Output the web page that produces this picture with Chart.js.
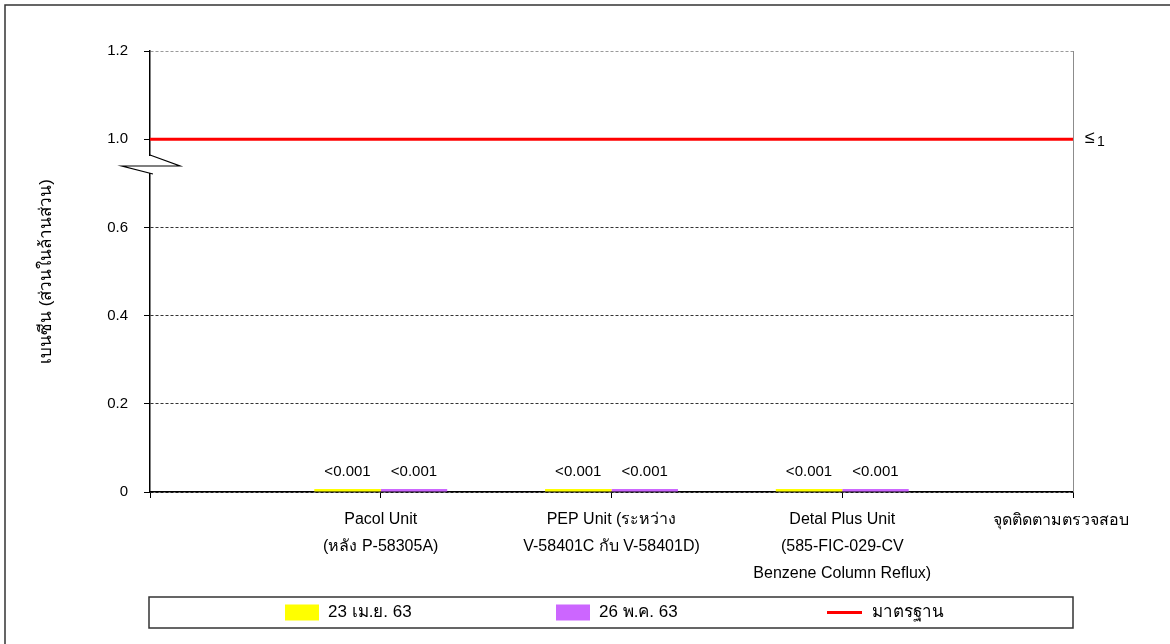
<!DOCTYPE html>
<html>
<head>
<meta charset="utf-8">
<script src="https://cdn.jsdelivr.net/npm/chart.js@4"></script>
<style>
  html, body { margin: 0; padding: 0; background: #fff; }
  #wrap { width: 1170px; height: 644px; position: relative; }
</style>
</head>
<body>
<div id="wrap"><canvas id="benzene-chart" width="1170" height="644"></canvas></div>
<script>
// sampling points (first and last slots are empty so the axis runs edge to edge)
const categories = [
  '',
  ['Pacol Unit', '(หลัง P-58305A)'],
  ['PEP Unit (ระหว่าง', 'V-58401C กับ V-58401D)'],
  ['Detal Plus Unit', '(585-FIC-029-CV', 'Benzene Column Reflux)'],
  ''
];
const seriesNames = ['23 เม.ย. 63', '26 พ.ค. 63', 'มาตรฐาน'];
const seriesApr = [null, 0.001, 0.001, 0.001, null];
const seriesMay = [null, 0.001, 0.001, 0.001, null];
const standardLimit = [1, 1, 1, 1, 1];
const yTicks = [0, 0.2, 0.4, 0.6, 1.0, 1.2];
const xAxisTitle = 'จุดติดตามตรวจสอบ';
const yAxisTitle = 'เบนซีน (ส่วนในล้านส่วน)';
const limitLabel = '≤';
const limitValue = '1';

const FONT = "'Liberation Sans', Arial, sans-serif";
const YELLOW = '#ffff00';
const PURPLE = '#cc66ff';
const RED = '#ff0000';

// y axis has a break: 0.6 .. 1.0 is squeezed into one 0.2 step
function squeeze(v) {
  if (v === null || v === undefined) return v;
  if (v <= 0.6) return v;
  if (v >= 1.0) return v - 0.2;
  return 0.6 + (v - 0.6) / 2;
}
function unsqueeze(a) {
  if (a <= 0.6) return a;
  if (a >= 0.8) return a + 0.2;
  return 0.6 + (a - 0.6) * 2;
}

class BrokenLinearScale extends Chart.LinearScale {
  configure() {
    super.configure();
    this._startValue = squeeze(this.min);
    this._endValue = squeeze(this.max);
    this._valueRange = this._endValue - this._startValue;
  }
  getPixelForValue(value) {
    return super.getPixelForValue(squeeze(value));
  }
  getValueForPixel(pixel) {
    return unsqueeze(super.getValueForPixel(pixel));
  }
}
BrokenLinearScale.id = 'brokenLinear';
BrokenLinearScale.defaults = Chart.LinearScale.defaults;
Chart.register(BrokenLinearScale);

// frame, plot border, axis break, value labels, legend and the extra texts
const decorations = {
  id: 'decorations',
  afterDraw(chart) {
    const ctx = chart.ctx;
    const area = chart.chartArea;
    const y = chart.scales.y;
    ctx.save();

    // outer frame
    ctx.strokeStyle = '#333';
    ctx.lineWidth = 1.5;
    ctx.beginPath();
    ctx.moveTo(5, 700);
    ctx.lineTo(5, 5);
    ctx.lineTo(1200, 5);
    ctx.stroke();

    // right edge of the plot
    ctx.strokeStyle = '#8c8c8c';
    ctx.lineWidth = 1;
    ctx.beginPath();
    ctx.moveTo(area.right + 0.5, area.top);
    ctx.lineTo(area.right + 0.5, area.bottom);
    ctx.stroke();

    // axis break mark
    const by = Math.round(y.getPixelForValue(0.88));
    const bx = area.left;
    ctx.fillStyle = '#fff';
    ctx.fillRect(bx - 2, by - 10, 5, 17);
    ctx.strokeStyle = '#000';
    ctx.lineWidth = 1.2;
    ctx.beginPath();
    ctx.moveTo(bx, by - 11);
    ctx.lineTo(bx + 30, by);
    ctx.lineTo(bx - 28, by);
    ctx.lineTo(bx + 3, by + 8);
    ctx.stroke();

    // value labels above the bars
    ctx.fillStyle = '#000';
    ctx.font = '15px ' + FONT;
    ctx.textAlign = 'center';
    ctx.textBaseline = 'middle';
    [0, 1].forEach(di => {
      const meta = chart.getDatasetMeta(di);
      meta.data.forEach((bar, i) => {
        const v = chart.data.datasets[di].data[i];
        if (v === null) return;
        ctx.fillText('<' + v, bar.x, area.bottom - 20);
      });
    });

    // limit label at the end of the standard line
    const ly = y.getPixelForValue(standardLimit[standardLimit.length - 1]);
    ctx.textAlign = 'left';
    ctx.font = '18px ' + FONT;
    ctx.fillText(limitLabel, area.right + 12, ly - 1);
    ctx.font = '14px ' + FONT;
    ctx.fillText(limitValue, area.right + 24, ly + 3);

    // x axis title
    ctx.textAlign = 'center';
    ctx.font = '16px ' + FONT;
    ctx.fillText(xAxisTitle, area.right - 12, area.bottom + 29);

    // legend box
    const top = 597, h = 31;
    ctx.strokeStyle = '#333';
    ctx.lineWidth = 1.5;
    ctx.strokeRect(area.left - 1, top, area.right - area.left + 1, h);
    const cy = top + h / 2;
    const colors = [YELLOW, PURPLE, RED];
    ctx.font = '17px ' + FONT;
    ctx.textAlign = 'left';
    seriesNames.forEach((name, i) => {
      const x0 = area.left + 135 + i * 271;
      if (i < 2) {
        ctx.fillStyle = colors[i];
        ctx.fillRect(x0, cy - 8, 34, 16);
        ctx.fillStyle = '#000';
        ctx.fillText(name, x0 + 43, cy);
      } else {
        ctx.strokeStyle = colors[i];
        ctx.lineWidth = 3;
        ctx.beginPath();
        ctx.moveTo(x0, cy);
        ctx.lineTo(x0 + 35, cy);
        ctx.stroke();
        ctx.fillStyle = '#000';
        ctx.fillText(name, x0 + 45, cy);
      }
    });
    ctx.restore();
  }
};

new Chart(document.getElementById('benzene-chart'), {
  data: {
    labels: categories,
    datasets: [
      {
        type: 'bar',
        label: seriesNames[0],
        data: seriesApr,
        backgroundColor: YELLOW,
        minBarLength: 3,
        order: 1
      },
      {
        type: 'bar',
        label: seriesNames[1],
        data: seriesMay,
        backgroundColor: PURPLE,
        minBarLength: 3,
        order: 1
      },
      {
        type: 'line',
        label: seriesNames[2],
        data: standardLimit,
        borderColor: RED,
        borderWidth: 3,
        pointRadius: 0,
        order: 0
      }
    ]
  },
  options: {
    responsive: false,
    animation: false,
    layout: { padding: { top: 51, right: 97, bottom: 0, left: 0 } },
    datasets: {
      bar: { categoryPercentage: 0.576, barPercentage: 1.0 }
    },
    plugins: {
      legend: { display: false },
      tooltip: { enabled: false }
    },
    scales: {
      x: {
        offset: false,
        grid: {
          offset: false,
          drawOnChartArea: false,
          drawTicks: true,
          tickLength: 6,
          color: '#000'
        },
        border: { color: '#000', width: 1.5 },
        ticks: {
          color: '#000',
          padding: 8,
          maxRotation: 0,
          autoSkip: false,
          font: { family: FONT, size: 16, lineHeight: 1.69 }
        },
        afterFit: scale => { scale.height = 152; }
      },
      y: {
        type: 'brokenLinear',
        min: 0,
        max: 1.2,
        afterBuildTicks: scale => {
          scale.ticks = yTicks.map(v => ({ value: v }));
        },
        grid: {
          color: c => (c.tick && c.tick.value === 1.2 ? '#9a9a9a' : '#333'),
          tickColor: '#000',
          tickLength: 6,
          lineWidth: 1
        },
        border: { color: '#000', width: 1.5, dash: [3, 2] },
        ticks: {
          color: '#000',
          padding: 16,
          font: { family: FONT, size: 15 },
          callback: v => (v === 0 ? '0' : v.toFixed(1))
        },
        title: {
          display: true,
          text: yAxisTitle,
          color: '#000',
          font: { family: FONT, size: 17 },
          padding: { top: 36, bottom: 0 }
        },
        afterFit: scale => { scale.width = 150; }
      }
    }
  },
  plugins: [decorations]
});
</script>
</body>
</html>
